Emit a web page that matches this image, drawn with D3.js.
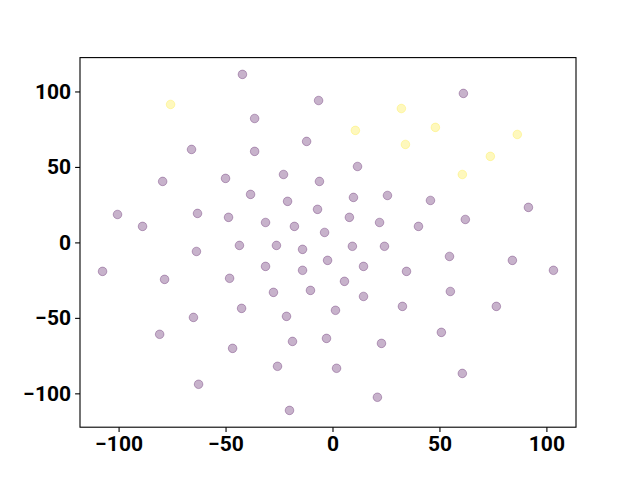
<!DOCTYPE html>
<html>
<head>
<meta charset="utf-8">
<script src="https://cdn.jsdelivr.net/npm/d3@7"></script>
<style>
  body { margin: 0; background: #fff; }
  .tick text { font-family: Roboto, "Liberation Sans", sans-serif; font-weight: bold; font-size: 21px; fill: #000; }
</style>
</head>
<body>
<div id="viz"></div>
<script>
// group 0 = purple, group 1 = yellow
var xs = [-42.1, -6.5, 61.2, -36.4, -12.1, -65.9, -36.4, 11.7, -79.4, -50.0,
          -22.9, -6.1, -38.3, -21.0, 9.8, 25.7, 45.8, -100.5, -63.1, -48.6,
          -7.0, -31.3, -17.8, 7.9, 22.0, 62.1, 91.6, -88.8, 40.2, -3.7,
          -43.5, -26.2, -14.0, 9.3, 24.3, -63.6, -107.5, -78.5, -48.1, -31.3,
          -14.0, -2.3, 14.5, 34.6, 54.7, 84.1, 103.3, 5.6, -27.6, -10.3,
          14.5, 55.1, 76.6, 32.7, -42.5, 1.4, -65.0, -21.5, 50.9, -80.8,
          -2.8, -18.7, 22.9, -46.7, 60.7, -25.7, 1.9, -62.6, 21.0, -20.1,
          -75.7, 10.7, 32.2, 48.1, 34.1, 86.4, 73.8, 60.7];
var ys = [111.3, 94.0, 98.7, 82.1, 66.9, 61.6, 60.3, 50.3, 40.4, 42.4,
          45.0, 40.4, 31.8, 27.2, 29.8, 31.1, 27.8, 18.5, 19.2, 16.6,
          21.9, 13.2, 10.6, 16.6, 13.2, 15.2, 23.2, 10.6, 10.6, 6.6,
          -2.0, -2.0, -4.6, -2.6, -2.6, -6.0, -19.2, -24.5, -23.8, -15.9,
          -18.5, -11.9, -15.9, -19.2, -9.3, -11.9, -18.5, -25.8, -33.1, -31.8,
          -35.8, -32.5, -42.4, -42.4, -43.7, -45.0, -49.7, -49.0, -59.6, -60.9,
          -63.6, -65.6, -66.9, -70.2, -86.8, -82.1, -83.4, -94.0, -102.6, -111.3,
          91.4, 74.2, 88.7, 76.2, 64.9, 71.5, 57.0, 45.0];
var groups = [0,0,0,0,0,0,0,0,0,0, 0,0,0,0,0,0,0,0,0,0,
              0,0,0,0,0,0,0,0,0,0, 0,0,0,0,0,0,0,0,0,0,
              0,0,0,0,0,0,0,0,0,0, 0,0,0,0,0,0,0,0,0,0,
              0,0,0,0,0,0,0,0,0,0, 1,1,1,1,1,1,1,1];
var colors = ["#440154", "#fde725"];
var xTicks = [-100, -50, 0, 50, 100];
var yTicks = [-100, -50, 0, 50, 100];

var width = 640,
    height = 480,
    axLeft = 80, axRight = 576, axTop = 57.6, axBottom = 427.2;

var points = xs.map(function(x, i) { return {x: x, y: ys[i], g: groups[i]}; });

function padded(ext) {
    var m = (ext[1] - ext[0]) * 0.05;
    return [ext[0] - m, ext[1] + m];
}

var x = d3.scaleLinear().domain(padded(d3.extent(xs))).range([axLeft, axRight]);
var y = d3.scaleLinear().domain(padded(d3.extent(ys))).range([axBottom, axTop]);

var svg = d3.select("#viz")
  .append("svg")
    .attr("width", width)
    .attr("height", height);

svg.append("rect")
    .attr("width", width)
    .attr("height", height)
    .style("fill", "white");

svg.append("g")
    .selectAll("circle")
    .data(points)
    .enter()
    .append("circle")
    .attr("cx", function(d) { return x(d.x); })
    .attr("cy", function(d) { return y(d.y); })
    .attr("r", 4.3)
    .style("fill", function(d) { return colors[d.g]; })
    .style("fill-opacity", 0.3)
    .style("stroke", function(d) { return colors[d.g]; })
    .style("stroke-opacity", 0.3)
    .style("stroke-width", 1);

var fmt = function(d) { return d < 0 ? "\u2212" + Math.abs(d) : d; };

var xAxis = svg.append("g")
    .attr("transform", "translate(0," + axBottom + ")")
    .call(d3.axisBottom(x).tickValues(xTicks).tickFormat(fmt).tickSize(4.9).tickPadding(4));
var yAxis = svg.append("g")
    .attr("transform", "translate(" + axLeft + ",0)")
    .call(d3.axisLeft(y).tickValues(yTicks).tickFormat(fmt).tickSize(4.9).tickPadding(4));

[xAxis, yAxis].forEach(function(a) {
    a.select(".domain").remove();
    a.selectAll(".tick line").style("stroke", "#000").style("stroke-width", 1.1);
});

svg.append("rect")
    .attr("x", axLeft)
    .attr("y", axTop)
    .attr("width", axRight - axLeft)
    .attr("height", axBottom - axTop)
    .style("fill", "none")
    .style("stroke", "black")
    .style("stroke-width", 1.1);
</script>
</body>
</html>
